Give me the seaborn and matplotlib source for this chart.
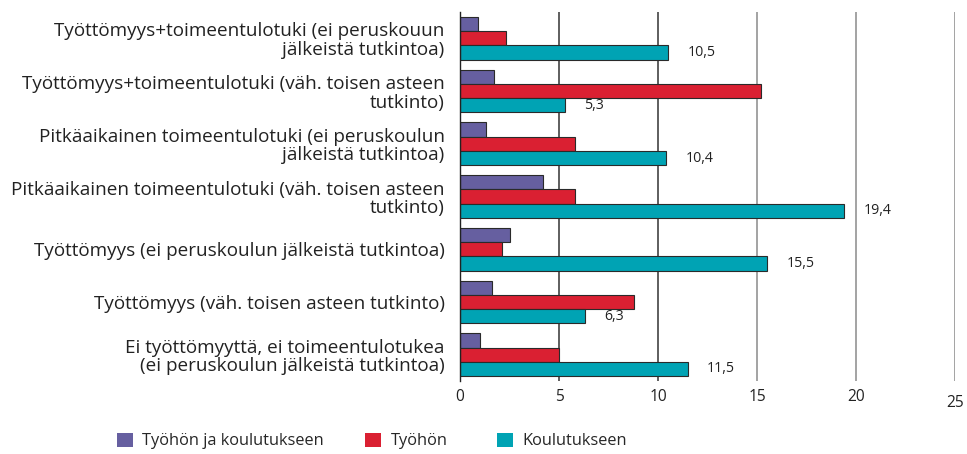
import matplotlib
matplotlib.use("Agg")
import matplotlib.pyplot as plt
import seaborn as sns
import pandas as pd
from matplotlib.patches import Patch

categories = [
    "Työttömyys+toimeentulotuki (ei peruskouun\njälkeistä tutkintoa)",
    "Työttömyys+toimeentulotuki (väh. toisen asteen\ntutkinto)",
    "Pitkäaikainen toimeentulotuki (ei peruskoulun\njälkeistä tutkintoa)",
    "Pitkäaikainen toimeentulotuki (väh. toisen asteen\ntutkinto)",
    "Työttömyys (ei peruskoulun jälkeistä tutkintoa)",
    "Työttömyys (väh. toisen asteen tutkinto)",
    "Ei työttömyyttä, ei toimeentulotukea\n(ei peruskoulun jälkeistä tutkintoa)",
]
series = ["Työhön ja koulutukseen", "Työhön", "Koulutukseen"]
tyohon_ja_koulutukseen = [0.9, 1.7, 1.3, 4.2, 2.5, 1.6, 1.0]
tyohon = [2.3, 15.2, 5.8, 5.8, 2.1, 8.8, 5.0]
koulutukseen = [10.5, 5.3, 10.4, 19.4, 15.5, 6.3, 11.5]
xticks = [0, 5, 10, 15, 20, 25]
colors = ["#665FA0", "#DA2032", "#00A3B4"]

rows = []
for name, vals in zip(series, [tyohon_ja_koulutukseen, tyohon, koulutukseen]):
    for c, v in zip(categories, vals):
        rows.append({"cat": c, "series": name, "value": v})
df = pd.DataFrame(rows)

sns.set_style("white")
plt.rcParams["font.family"] = ["Open Sans", "DejaVu Sans"]

fig = plt.figure(figsize=(9.67, 4.54), dpi=100)
ax = fig.add_axes([460 / 967, 1 - 381 / 454, 495 / 967, 369 / 454])

sns.barplot(data=df, y="cat", x="value", hue="series", hue_order=series,
            palette=colors, saturation=1, orient="h", width=0.81, ax=ax,
            edgecolor="#2a2a2a", linewidth=0.8, legend=False, errorbar=None)

ax.set_xlim(0, 25)
ax.set_ylim(6.5, -0.5)
ax.set_xticks(xticks)
ax.set_xticklabels([str(t) for t in xticks])
ax.set_xlabel("")
ax.set_ylabel("")
for s in ["top", "right", "bottom"]:
    ax.spines[s].set_visible(False)
ax.spines["left"].set_color("#222222")
ax.spines["left"].set_linewidth(1.0)

for t in xticks[1:]:
    col = "#333333" if t <= 10 else "#8a8a8a"
    ax.axvline(t, color=col, linewidth=1.1, zorder=0)

ax.tick_params(axis="x", length=0, pad=6, labelsize=11.2, colors="#222222")
ax.tick_params(axis="y", length=0, pad=11, labelsize=13.6, colors="#222222")
for lbl in ax.get_yticklabels():
    lbl.set_horizontalalignment("right")
    lbl.set_multialignment("right")
    lbl.set_linespacing(1.05)
ax.xaxis.get_major_ticks()[-1].set_pad(10)

cont = ax.containers[2]
ax.bar_label(cont, labels=[f"{v:.1f}".replace(".", ",") for v in koulutukseen],
             padding=14, fontsize=10.2, color="#222222")

# legend entries placed individually (uneven spacing as in reference)
legend_x = [117, 365, 497]
for name, c, lx in zip(series, colors, legend_x):
    leg = fig.legend([Patch(facecolor=c, edgecolor="none")], [name],
                     loc="center left", bbox_to_anchor=(lx / 967, 1 - 441 / 454),
                     frameon=False, fontsize=11.8, handlelength=1.0, handleheight=1.0,
                     handletextpad=0.55, borderaxespad=0, borderpad=0)

fig.savefig("out.png", dpi=100)
